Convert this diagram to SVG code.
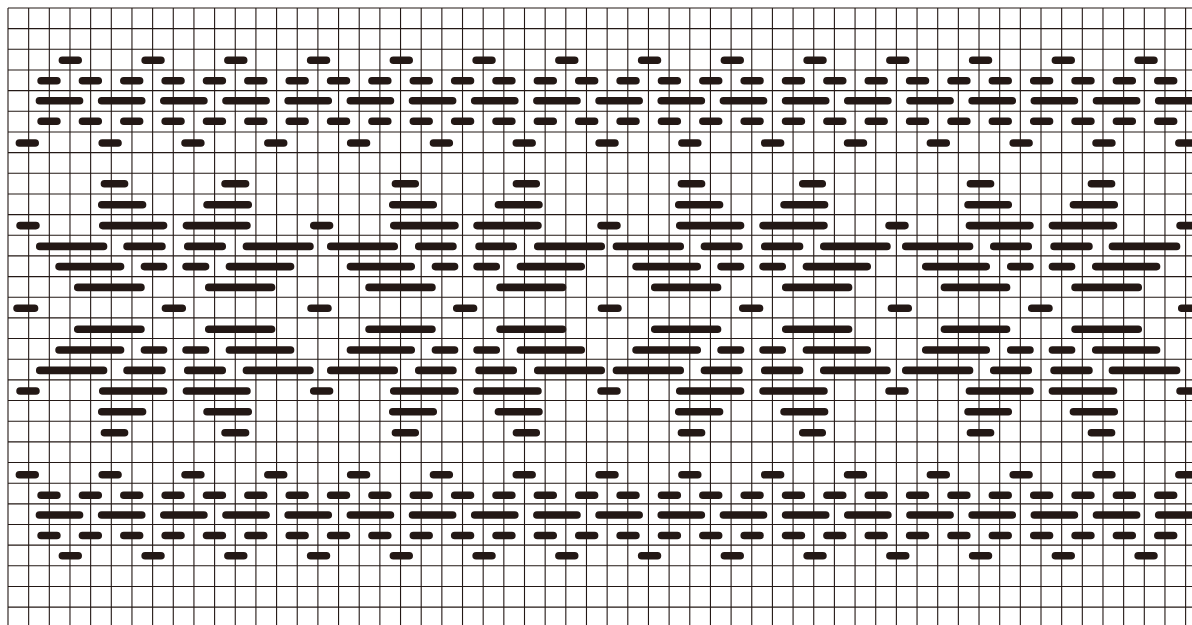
<svg xmlns="http://www.w3.org/2000/svg" width="1192" height="625" viewBox="0 0 1192 625">
<style>
.grid{fill:none;stroke:#231815;stroke-width:1.1}
.bar{fill:none;stroke:#231815;stroke-width:7.6;stroke-linecap:round}
</style>
<defs>
<path id="b2" d="M62.4 0h15.8M145.15 0h15.8M227.9 0h15.8M310.65 0h15.8M393.4 0h15.8M476.15 0h15.8M558.9 0h15.8M641.65 0h15.8M724.4 0h15.8M807.15 0h15.8M889.9 0h15.8M972.65 0h15.8M1055.4 0h15.8M1138.15 0h15.8"/>
<path id="b3" d="M41.1 0h15.8M82.46 0h15.8M123.82 0h15.8M165.18 0h15.8M206.54 0h15.8M247.9 0h15.8M289.26 0h15.8M330.62 0h15.8M371.98 0h15.8M413.34 0h15.8M454.7 0h15.8M496.06 0h15.8M537.42 0h15.8M578.78 0h15.8M620.14 0h15.8M661.5 0h15.8M702.86 0h15.8M744.22 0h15.8M785.58 0h15.8M826.94 0h15.8M868.3 0h15.8M909.66 0h15.8M951.02 0h15.8M992.38 0h15.8M1033.74 0h15.8M1075.1 0h15.8M1116.46 0h15.8M1157.82 0h15.8"/>
<path id="b4" d="M39.45 0h40.1M101.63 0h40.1M163.81 0h40.1M225.99 0h40.1M288.17 0h40.1M350.35 0h40.1M412.53 0h40.1M474.71 0h40.1M536.89 0h40.1M599.07 0h40.1M661.25 0h40.1M723.43 0h40.1M785.61 0h40.1M847.79 0h40.1M909.97 0h40.1M972.15 0h40.1M1034.33 0h40.1M1096.51 0h40.1M1158.69 0h40.1"/>
<path id="b6" d="M19.4 0h15.8M102.22 0h15.8M185.04 0h15.8M267.86 0h15.8M350.68 0h15.8M433.5 0h15.8M516.32 0h15.8M599.14 0h15.8M681.96 0h15.8M764.78 0h15.8M847.6 0h15.8M930.42 0h15.8M1013.24 0h15.8M1096.06 0h15.8M1178.88 0h15.8"/>
<path id="m8" d="M104.45 0H124.55M225.05 0H245.55M395.45 0H415.25M516.45 0H536.25M681.45 0H701.55M802.75 0H822.25M970.45 0H990.55M1091.45 0H1111.55"/>
<path id="m9" d="M101.75 0H142.55M207.05 0H248.25M392.75 0H433.25M498.45 0H538.95M678.75 0H719.55M784.05 0H824.55M968.05 0H1008.25M1073.45 0H1114.25"/>
<path id="m10" d="M20.05 0H35.95M102.75 0H163.55M186.45 0H246.95M313.75 0H329.55M393.75 0H454.95M477.05 0H537.95M601.05 0H616.95M679.75 0H740.55M763.05 0H823.95M889.05 0H904.95M969.45 0H1029.95M1052.45 0H1113.55M1180.05 0H1200"/>
<path id="m11" d="M39.75 0H103.55M127.05 0H161.95M187.75 0H222.25M246.45 0H309.95M330.75 0H394.25M418.75 0H452.95M479.05 0H513.25M537.75 0H601.25M616.45 0H680.25M704.45 0H738.95M764.75 0H799.55M823.75 0H886.95M905.75 0H969.55M993.75 0H1028.25M1054.05 0H1088.95M1112.45 0H1176.55"/>
<path id="m12" d="M59.05 0H120.55M144.45 0H163.55M186.05 0H205.55M229.45 0H290.55M350.45 0H411.25M435.45 0H454.55M477.05 0H496.25M520.45 0H581.25M636.05 0H697.25M721.05 0H740.55M763.05 0H782.25M806.45 0H867.25M925.75 0H986.25M1010.75 0H1029.95M1052.45 0H1071.55M1095.75 0H1156.55"/>
<path id="m13" d="M77.75 0H140.95M208.75 0H271.55M369.05 0H431.95M500.05 0H562.55M654.75 0H717.55M785.75 0H848.55M944.45 0H1006.55M1075.05 0H1138.25"/>
<path id="m14" d="M17.05 0H34.55M165.45 0H182.25M311.05 0H327.95M456.75 0H473.55M601.45 0H617.95M742.75 0H759.55M891.45 0H908.25M1031.75 0H1048.95M1181.75 0H1200"/>
</defs>
<rect width="1192" height="625" fill="#ffffff"/>
<g id="grid">
<path class="grid" d="M8 8V625M28.66 8V625M49.32 8V625M69.98 8V625M90.64 8V625M111.3 8V625M131.96 8V625M152.62 8V625M173.28 8V625M193.94 8V625M214.6 8V625M235.26 8V625M255.92 8V625M276.58 8V625M297.24 8V625M317.9 8V625M338.56 8V625M359.22 8V625M379.88 8V625M400.54 8V625M421.2 8V625M441.86 8V625M462.52 8V625M483.18 8V625M503.84 8V625M524.5 8V625M545.16 8V625M565.82 8V625M586.48 8V625M607.14 8V625M627.8 8V625M648.46 8V625M669.12 8V625M689.78 8V625M710.44 8V625M731.1 8V625M751.76 8V625M772.42 8V625M793.08 8V625M813.74 8V625M834.4 8V625M855.06 8V625M875.72 8V625M896.38 8V625M917.04 8V625M937.7 8V625M958.36 8V625M979.02 8V625M999.68 8V625M1020.34 8V625M1041 8V625M1061.66 8V625M1082.32 8V625M1102.98 8V625M1123.64 8V625M1144.3 8V625M1164.96 8V625M1185.62 8V625"/>
<path class="grid" d="M8 8H1192M8 28.66H1192M8 49.32H1192M8 69.98H1192M8 90.64H1192M8 111.3H1192M8 131.96H1192M8 152.62H1192M8 173.28H1192M8 193.94H1192M8 214.6H1192M8 235.26H1192M8 255.92H1192M8 276.58H1192M8 297.24H1192M8 317.9H1192M8 338.56H1192M8 359.22H1192M8 379.88H1192M8 400.54H1192M8 421.2H1192M8 441.86H1192M8 462.52H1192M8 483.18H1192M8 503.84H1192M8 524.5H1192M8 545.16H1192M8 565.82H1192M8 586.48H1192M8 607.14H1192"/>
</g>
<g id="top-border" class="bar">
<use href="#b2" y="60.3"/>
<use href="#b3" y="80.8"/>
<use href="#b4" y="100.8"/>
<use href="#b3" y="121.3"/>
<use href="#b6" y="143"/>
</g>
<g id="middle-motif" class="bar">
<use href="#m8" y="183.8"/>
<use href="#m9" y="204.8"/>
<use href="#m10" y="225.6"/>
<use href="#m11" y="246.4"/>
<use href="#m12" y="266.6"/>
<use href="#m13" y="287.4"/>
<use href="#m14" y="308.3"/>
<use href="#m13" y="329.2"/>
<use href="#m12" y="350"/>
<use href="#m11" y="370.4"/>
<use href="#m10" y="391"/>
<use href="#m9" y="411.8"/>
<use href="#m8" y="432.8"/>
</g>
<g id="bottom-border" class="bar">
<use href="#b6" y="474.8"/>
<use href="#b3" y="495.2"/>
<use href="#b4" y="515"/>
<use href="#b3" y="535.5"/>
<use href="#b2" y="555.8"/>
</g>
</svg>
